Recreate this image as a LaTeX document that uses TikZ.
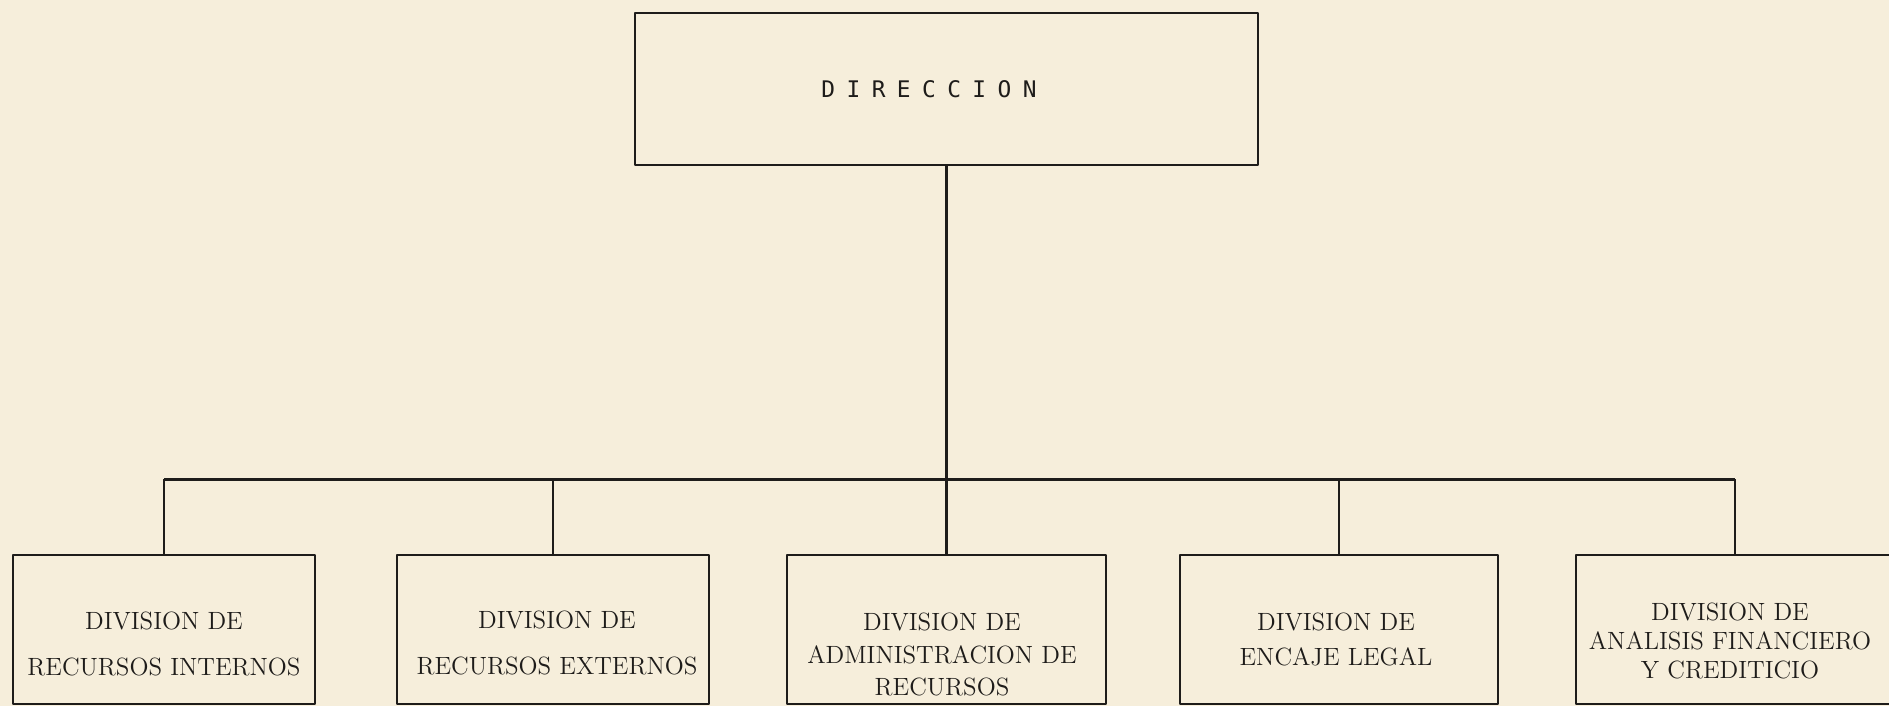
\documentclass[tikz,border=0pt]{standalone}
\usepackage{fontspec}
\newfontfamily\typewriter[LetterSpace=50]{DejaVu Sans Mono}
\definecolor{paper}{RGB}{246,238,219}
\definecolor{ink}{RGB}{30,28,26}
\tikzset{
  unitbox/.style={draw=ink, line width=1.2pt, rectangle, inner sep=0pt, minimum height=29.8mm},
  linkline/.style={draw=ink, line width=1.2pt},
  busline/.style={draw=ink, line width=1.7pt},
  divtext/.style={font=\fontsize{14.2pt}{#1}\selectfont, align=center, text=ink, inner sep=0pt}
}
\begin{document}
\begin{tikzpicture}[x=0.2mm, y=-0.2mm, line join=round]
  \useasboundingbox (0,0) rectangle (1889,706);
  \fill[paper] (0,0) rectangle (1889,706);
  \clip (0,0) rectangle (1889,706);
  % direccion
  \node[unitbox, minimum width=124.6mm, minimum height=30.4mm,
        font=\typewriter\fontsize{13pt}{15pt}\selectfont, text=ink] (dir) at (946.5,89) {DIRECCION\hspace*{7mm}};
  % divisiones
  \node[unitbox, minimum width=60.4mm] (rin) at (164,629.5) {};
  \node[unitbox, minimum width=62.4mm] (rex) at (553,629.5) {};
  \node[unitbox, minimum width=63.8mm] (adm) at (946.5,629.5) {};
  \node[unitbox, minimum width=63.6mm] (enc) at (1339,629.5) {};
  \node[unitbox, minimum width=63.6mm] (ana) at (1735,629.5) {};
  \node[divtext=9.2mm] (rin-t) at (164,644) {DIVISION DE\\RECURSOS INTERNOS};
  \node[divtext=9.2mm] (rex-t) at (557,643) {DIVISION DE\\RECURSOS EXTERNOS};
  \node[divtext=6.5mm] (adm-t) at (942,654.5) {DIVISION DE\\ADMINISTRACION DE\\RECURSOS};
  \node[divtext=7mm] (enc-t) at (1336,639.5) {DIVISION DE\\ENCAJE LEGAL};
  \node[divtext=5.8mm] (ana-t) at (1730,641) {DIVISION DE\\ANALISIS FINANCIERO\\Y CREDITICIO};
  % lineas
  \coordinate (bus) at (946.5,479);
  \draw[busline] (rin.north |- bus) -- (ana.north |- bus);
  \draw[linkline] (dir.south) -- (dir.south |- bus);
  \foreach \n in {rin,rex,adm,enc,ana}
    \draw[linkline] (\n.north |- bus) -- (\n.north);
\end{tikzpicture}
\end{document}
